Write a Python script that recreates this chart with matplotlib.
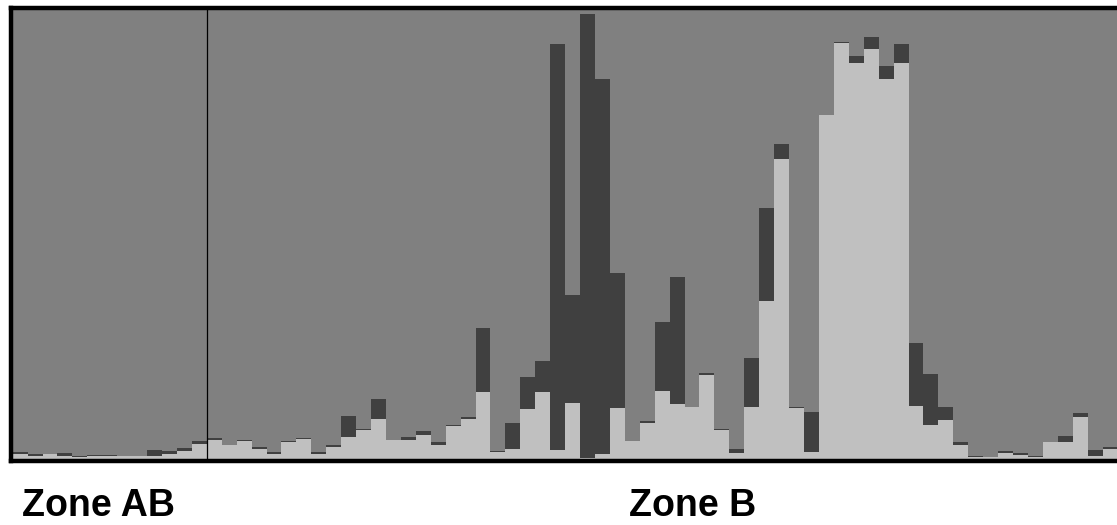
import matplotlib
matplotlib.use("Agg")
import matplotlib.pyplot as plt
import numpy as np

# Membership proportions per individual (cluster 1 = light, cluster 2 = dark);
# the remaining share belongs to cluster 3 (medium grey).
cluster1 = [0.012, 0.007, 0.010, 0.007, 0.004, 0.007, 0.007, 0.007, 0.007, 0.006,
            0.010, 0.018, 0.034, 0.043, 0.031, 0.039, 0.022, 0.010, 0.038, 0.045,
            0.012, 0.027, 0.050, 0.065, 0.089, 0.042, 0.042, 0.053, 0.031, 0.074,
            0.089, 0.149, 0.016, 0.022, 0.111, 0.149, 0.020, 0.125, 0.003, 0.011,
            0.114, 0.040, 0.080, 0.152, 0.123, 0.116, 0.187, 0.065, 0.013, 0.116,
            0.352, 0.668, 0.114, 0.016, 0.766, 0.927, 0.882, 0.913, 0.846, 0.882,
            0.118, 0.076, 0.087, 0.031, 0.004, 0.004, 0.013, 0.009, 0.004, 0.038,
            0.038, 0.094, 0.007, 0.022]
cluster2 = [0.003, 0.003, 0.000, 0.006, 0.003, 0.002, 0.002, 0.000, 0.000, 0.014,
            0.008, 0.006, 0.006, 0.004, 0.000, 0.004, 0.004, 0.005, 0.002, 0.002,
            0.004, 0.004, 0.046, 0.002, 0.045, 0.000, 0.007, 0.009, 0.007, 0.002,
            0.004, 0.143, 0.002, 0.058, 0.071, 0.069, 0.904, 0.241, 0.988, 0.835,
            0.300, 0.000, 0.004, 0.154, 0.283, 0.000, 0.004, 0.002, 0.009, 0.109,
            0.207, 0.033, 0.002, 0.089, 0.000, 0.002, 0.016, 0.027, 0.029, 0.042,
            0.140, 0.114, 0.029, 0.007, 0.002, 0.000, 0.005, 0.005, 0.002, 0.000,
            0.013, 0.009, 0.013, 0.005]

zone_labels = ["Zone AB", "Zone B"]
zone_start = [0, 13]

c1 = np.array(cluster1)
c2 = np.array(cluster2)
c3 = 1.0 - c1 - c2
x = np.arange(len(c1))

W, H = 1117, 525
fig = plt.figure(figsize=(W / 100, H / 100), dpi=100)
ax = fig.add_axes([10.5 / W, 64 / H, (1125 - 10.5) / W, (461 - 8) / H])

kw = dict(width=1.0, align="edge", linewidth=0)
ax.bar(x, c1, color="#c0c0c0", **kw)
ax.bar(x, c2, bottom=c1, color="#404040", **kw)
ax.bar(x, c3, bottom=c1 + c2, color="#808080", **kw)

ax.axvline(zone_start[1], color="black", linewidth=0.9)

ax.set_xlim(-0.147, 74.5)
ax.set_ylim(-0.0045, 1.0045)
ax.set_xticks([])
ax.set_yticks([])
for side in ax.spines.values():
    side.set_linewidth(3.2)
    side.set_color("black")

text_kw = dict(fontsize=27, fontweight="bold", family=["Liberation Sans", "DejaVu Sans"],
               ha="center", va="baseline")
fig.text(99 / W, (H - 515.5) / H, zone_labels[0], **text_kw)
fig.text(693 / W, (H - 515.5) / H, zone_labels[1], **text_kw)

fig.savefig("out.png", dpi=100, facecolor="white")
